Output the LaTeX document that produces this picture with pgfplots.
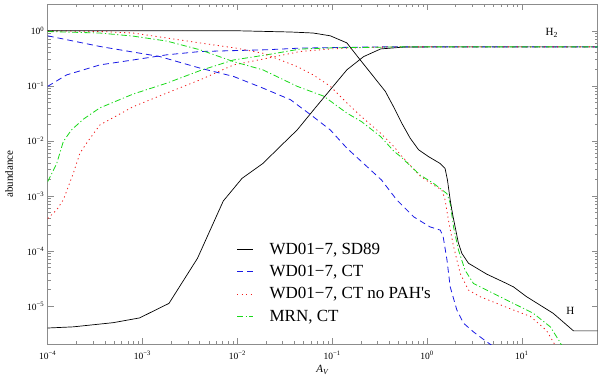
\documentclass[border=0pt]{standalone}
\usepackage{fontspec}
\setmainfont{Liberation Serif}
\usepackage{pgfplots}
\pgfplotsset{compat=1.18}
\definecolor{cblue}{rgb}{0.1,0.1,0.9}
\definecolor{cred}{rgb}{0.95,0.1,0.1}
\definecolor{cgreen}{rgb}{0.1,0.85,0.1}
\begin{document}
\begin{tikzpicture}
\begin{loglogaxis}[
  scale only axis, width=550pt, height=339.5pt,
  xmin=1e-4, xmax=63, ymin=2.05e-6, ymax=3,
  axis line style={black!45},
  every tick/.style={black!45},
  tick align=inside,
  major tick length=6pt, minor tick length=3pt,
  xtick={1e-4,1e-3,1e-2,1e-1,1,10},
  xticklabels={10\textsuperscript{−4},10\textsuperscript{−3},10\textsuperscript{−2},10\textsuperscript{−1},10\textsuperscript{0},10\textsuperscript{1}},
  ytick={1e-5,1e-4,1e-3,1e-2,1e-1,1},
  yticklabels={10\textsuperscript{−5},10\textsuperscript{−4},10\textsuperscript{−3},10\textsuperscript{−2},10\textsuperscript{−1},10\textsuperscript{0}},
  ticklabel style={font=\fontsize{9.5}{11}\selectfont, black},
  xticklabel style={yshift=-3.5pt},
  xlabel={\textit{A}\textsubscript{\textit{V}}},
  ylabel={abundance},
  label style={font=\fontsize{11}{13}\selectfont},
  xlabel style={at={(axis description cs:0.5,-0.0766)},anchor=center},
  ylabel style={at={(axis description cs:-0.07,0.5)},anchor=center},
  legend style={draw=none, fill=none, at={(axis description cs:0.338,0.31)}, anchor=north west,
    font=\fontsize{17}{20}\selectfont, row sep=5.5pt, column sep=14pt, legend cell align=left},
  legend image code/.code={\draw[#1] (0pt,0pt) -- (16pt,0pt);},
  every axis plot/.append style={line width=0.8pt},
]
% black H2 (SD89)
\addplot[black, line width=0.7pt] coordinates {(1e-4,4.0e-6) (1.86e-4,4.2e-6) (4.9e-4,5.0e-6) (9.3e-4,6.1e-6) (1.9e-3,1.12e-5) (3.8e-3,7.4e-5) (4.9e-3,1.96e-4) (7.1e-3,8.1e-4) (1.12e-2,2.09e-3) (0.0186,3.9e-3) (0.0282,7.9e-3) (0.0427,1.58e-2) (0.0634,3.63e-2) (0.0955,0.085) (0.1426,0.195) (0.214,0.339) (0.324,0.468) (0.562,0.505) (1.0,0.51) (63,0.51)};
\addlegendentry{WD01−7, SD89}
% blue H2
\addplot[cblue, dash pattern=on 6pt off 4pt] coordinates {(1e-4,0.098) (1.585e-4,0.158) (3.55e-4,0.24) (7.94e-4,0.295) (1.8e-3,0.366) (4.07e-3,0.42) (9.12e-3,0.436) (0.0204,0.452) (0.0457,0.484) (0.141,0.50) (0.316,0.51) (63,0.51)};
\addlegendentry{WD01−7, CT}
% red H2
\addplot[cred, dash pattern=on 1.2pt off 3.3pt] coordinates {(1e-4,3.9e-4) (1.245e-4,5.6e-4) (1.462e-4,8.5e-4) (1.862e-4,2.57e-3) (2.188e-4,6.0e-3) (2.57e-4,9.1e-3) (3.55e-4,0.0195) (7.94e-4,0.0417) (1.8e-3,0.074) (4.07e-3,0.129) (9.12e-3,0.24) (0.0204,0.316) (0.0457,0.42) (0.1,0.47) (0.25,0.5) (0.5,0.51) (63,0.51)};
\addlegendentry{WD01−7, CT no PAH\textquotesingle s}
% green H2
\addplot[cgreen, dash pattern=on 6pt off 2.5pt on 1.2pt off 2.5pt] coordinates {(1e-4,1.82e-3) (1.245e-4,3.89e-3) (1.462e-4,9.77e-3) (1.778e-4,0.0158) (2.399e-4,0.0251) (3.548e-4,0.0398) (7.943e-4,0.0708) (1.8e-3,0.112) (4.07e-3,0.19) (9.12e-3,0.295) (0.0204,0.366) (0.0457,0.465) (0.1,0.49) (0.25,0.5) (0.5,0.51) (63,0.51)};
\addlegendentry{MRN, CT}
% blue H
\addplot[cblue, dash pattern=on 6pt off 4pt, forget plot] coordinates {(1e-4,0.81) (3.55e-4,0.519) (1.51e-3,0.341) (4.07e-3,0.209) (9.12e-3,0.148) (0.0186,0.091) (0.0363,0.056) (0.0631,0.0275) (0.0955,0.0158) (0.1426,0.0074) (0.2138,0.0039) (0.331,0.00195) (0.479,8.5e-4) (0.724,4.17e-4) (1.072,2.75e-4) (1.38,2.4e-4) (1.479,1.82e-4) (1.622,6.9e-5) (1.754,2.24e-5) (2.061,8.5e-6) (2.421,4.9e-6) (3.09,3.4e-6) (4.27,2.24e-6) (5.62,1.6e-6)};
% red H
\addplot[cred, dash pattern=on 1.2pt off 3.3pt, forget plot] coordinates {(1e-4,1.0) (3.55e-4,0.97) (7.94e-4,0.91) (1.8e-3,0.74) (4.07e-3,0.60) (0.01,0.48) (0.0186,0.39) (0.0427,0.224) (0.0631,0.158) (0.0955,0.098) (0.1426,0.049) (0.2038,0.0275) (0.3236,0.0138) (0.447,0.0079) (0.525,0.0056) (0.845,0.0023) (1.167,0.00158) (1.432,0.00129) (1.549,8.5e-4) (1.683,3.6e-4) (1.905,1.2e-4) (2.239,3.9e-5) (2.735,1.95e-5) (3.63,1.48e-5) (8.13,8.5e-6) (12.3,6.5e-6) (18.2,3.6e-6) (21.4,2.24e-6) (22.9,1.8e-6)};
% green H
\addplot[cgreen, dash pattern=on 6pt off 2.5pt on 1.2pt off 2.5pt, forget plot] coordinates {(1e-4,0.97) (3.55e-4,0.91) (7.94e-4,0.80) (1.8e-3,0.65) (4.07e-3,0.45) (9.12e-3,0.275) (0.0186,0.195) (0.0427,0.098) (0.0813,0.065) (0.1426,0.032) (0.2038,0.0224) (0.3236,0.012) (0.447,0.0065) (0.525,0.0052) (0.845,0.0024) (1.167,0.0017) (1.432,0.0013) (1.622,0.0011) (1.754,7.4e-4) (1.901,2.75e-4) (2.143,1.05e-4) (2.512,4.5e-5) (3.09,2.57e-5) (4.27,1.95e-5) (8.13,1.12e-5) (13.2,7.4e-6) (19.95,4.2e-6) (25.1,2.24e-6) (26.9,1.8e-6)};
% black H
\addplot[black, line width=0.7pt, forget plot] coordinates {(1e-4,1.0) (0.01,1.0) (0.0363,0.95) (0.0631,0.91) (0.0955,0.81) (0.1426,0.603) (0.197,0.297) (0.272,0.148) (0.363,0.0794) (0.442,0.0421) (0.542,0.0209) (0.664,0.0112) (0.813,0.00692) (1.035,0.00519) (1.374,0.00389) (1.549,0.00316) (1.641,0.00195) (1.754,8.5e-4) (1.862,4.6e-4) (1.977,2.75e-4) (2.138,1.41e-4) (2.328,9.1e-5) (2.735,6.0e-5) (4.266,3.8e-5) (6.918,2.57e-5) (8.128,2.24e-5) (11.22,1.48e-5) (21.38,7.4e-6) (35.0,3.55e-6) (63,3.55e-6)};
\node[font=\fontsize{11}{13}\selectfont] at (axis cs:20.7,0.91) {H\textsubscript{2}};
\node[font=\fontsize{11}{13}\selectfont] at (axis cs:32.4,8.1e-6) {H};
\end{loglogaxis}
\pgfresetboundingbox
\path[use as bounding box] (-47.7pt,-41pt) rectangle (552.3pt,344pt);
\end{tikzpicture}
\end{document}
